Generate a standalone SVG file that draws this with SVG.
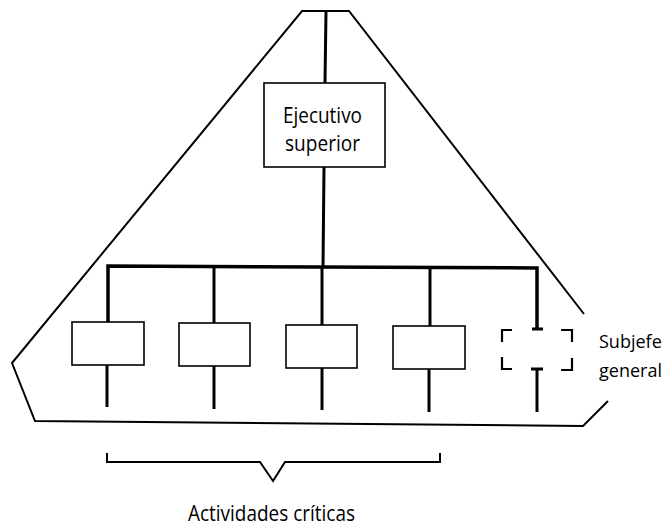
<svg xmlns="http://www.w3.org/2000/svg" width="666" height="526" viewBox="0 0 666 526">
  <style>
    .outline { fill: none; stroke: #000; stroke-width: 2; stroke-linejoin: miter; }
    .bus { fill: none; stroke: #000; stroke-width: 3.5; stroke-linejoin: miter; }
    .link { fill: none; stroke: #000; stroke-width: 3; }
    .box { fill: #fff; stroke: #000; stroke-width: 1.6; }
    .dash { fill: none; stroke: #000; stroke-width: 2.2; }
    .label { font-family: "Open Sans", "Noto Sans", sans-serif; font-size: 21px; fill: #000; }
    .side { font-size: 18px; }
  </style>

  <!-- enclosing boundary of the organisation -->
  <g id="boundary">
    <polyline class="outline" points="584,314 349,11 302,11 12,363 35,421 583,426 608,401"/>
  </g>

  <!-- connectors -->
  <g id="connectors">
    <line class="link" x1="326" y1="11" x2="325" y2="83"/>
    <line class="link" x1="324" y1="167" x2="323" y2="267"/>
    <polyline class="bus" points="108,322 108,266 537,268 537,329"/>
    <line class="link" x1="214" y1="266" x2="214" y2="323"/>
    <line class="link" x1="322" y1="267" x2="322" y2="325"/>
    <line class="link" x1="430" y1="267" x2="430" y2="326"/>
    <line class="link" x1="532" y1="329" x2="543" y2="329"/>
    <line class="link" x1="107" y1="364" x2="107" y2="407"/>
    <line class="link" x1="214" y1="366" x2="214" y2="409"/>
    <line class="link" x1="322" y1="368" x2="322" y2="410"/>
    <line class="link" x1="429" y1="369" x2="429" y2="412"/>
    <line class="link" x1="531" y1="369" x2="543" y2="369"/>
    <line class="link" x1="537" y1="369" x2="537" y2="412"/>
  </g>

  <!-- top executive -->
  <g id="ejecutivo">
    <rect class="box" x="264" y="83" width="121" height="84"/>
    <text class="label" x="283" y="123" textLength="79" lengthAdjust="spacingAndGlyphs">Ejecutivo</text>
    <text class="label" x="285" y="151" textLength="75" lengthAdjust="spacingAndGlyphs">superior</text>
  </g>

  <!-- critical activity units -->
  <g id="actividad1"><rect class="box" x="72" y="322" width="72" height="43"/></g>
  <g id="actividad2"><rect class="box" x="179" y="323" width="71" height="43"/></g>
  <g id="actividad3"><rect class="box" x="286" y="325" width="71" height="43"/></g>
  <g id="actividad4"><rect class="box" x="393" y="326" width="72" height="43"/></g>

  <!-- optional deputy (dashed corners) -->
  <g id="subjefe">
    <polyline class="dash" points="512,330 502,330 502,342"/>
    <polyline class="dash" points="502,357 502,369 512,369"/>
    <polyline class="dash" points="561,330 572,330 572,342"/>
    <polyline class="dash" points="572,358 572,370 561,370"/>
    <text class="label side" x="599" y="348">Subjefe</text>
    <text class="label side" x="599" y="377">general</text>
  </g>

  <!-- brace grouping the critical activities -->
  <g id="actividades-criticas">
    <polyline class="outline" points="107,453 107,462 260,462 273,481 285,462 440,462 440,453" stroke-width="1.6"/>
    <text class="label" x="188" y="521" textLength="167" lengthAdjust="spacingAndGlyphs">Actividades críticas</text>
  </g>
</svg>
